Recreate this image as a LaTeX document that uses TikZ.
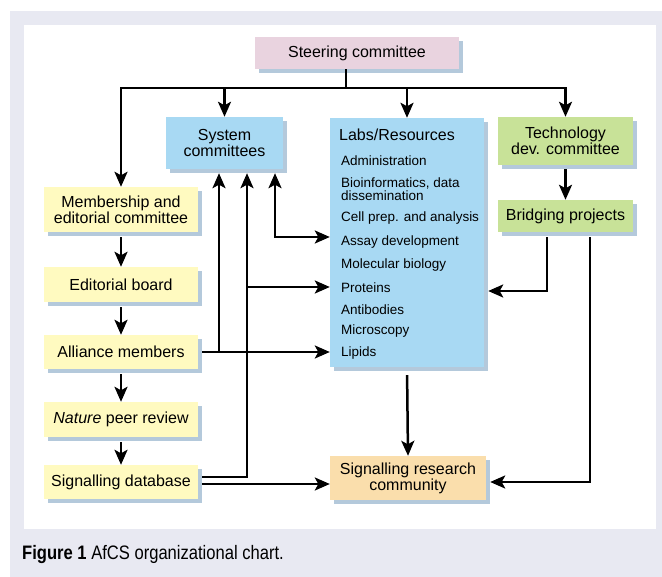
\documentclass[tikz,border=0pt]{standalone}
\usepackage{fontspec}
\setmainfont{Liberation Sans}
\newfontfamily\capfont[FakeStretch=0.85]{Liberation Sans}
\usepackage{tikz}
\usetikzlibrary{arrows.meta,shapes,shadows}
\usetikzlibrary{positioning}
\definecolor{steerpink}{RGB}{233,211,223}
\definecolor{sysblue}{RGB}{168,217,243}
\definecolor{memyellow}{RGB}{255,250,192}
\definecolor{techgreen}{RGB}{200,226,152}
\definecolor{comorange}{RGB}{250,222,172}
\definecolor{shadowblue}{RGB}{180,201,219}
\definecolor{panelgray}{RGB}{232,233,242}
\tikzstyle{box} = [rectangle, inner sep=0pt, align=center,
    font=\fontsize{16}{16}\selectfont,
    general shadow={shadow xshift=4pt, shadow yshift=-4pt, fill=shadowblue}]
\tikzstyle{item} = [anchor=base west, inner sep=0pt, align=left,
    font=\fontsize{13.5}{13}\selectfont]
\tikzstyle{arr} = [-{Stealth[length=15pt,width=13pt,inset=3.5pt]}, line width=2.5pt]
\tikzstyle{arrtwo} = [{Stealth[length=15pt,width=13pt,inset=3.5pt]}-{Stealth[length=15pt,width=13pt,inset=3.5pt]}, line width=2.5pt]

\begin{document}
\begin{tikzpicture}[x=1pt, y=-1pt]
  \useasboundingbox (0,0) rectangle (662,577);
  \fill[panelgray] (10,11) rectangle (662,577);
  \fill[white] (24,25) rectangle (656,529);

  \node [box, fill=steerpink, minimum width=204pt, minimum height=32pt] (steer) at (357,53) {Steering committee};
  \node [box, fill=sysblue, minimum width=117pt, minimum height=52pt] (sys) at (224.5,143) {System\\committees};
  \node [box, fill=sysblue, minimum width=154pt, minimum height=249pt] (labs) at (407,242.5) {};
  \node [box, fill=techgreen, minimum width=135pt, minimum height=48pt] (tech) at (565.5,141) {Technology\\dev. committee};
  \node [box, fill=techgreen, minimum width=135pt, minimum height=32pt, below of=tech, node distance=75pt] (bridge) {Bridging projects};
  \node [box, fill=memyellow, minimum width=154pt, minimum height=45pt] (memb) at (121,209.5) {Membership and\\editorial committee};
  \node [box, fill=memyellow, minimum width=154pt, minimum height=35pt, below of=memb, node distance=75pt] (edit) {Editorial board};
  \node [box, fill=memyellow, minimum width=154pt, minimum height=34pt, below of=edit, node distance=67.5pt] (alli) {Alliance members};
  \node [box, fill=memyellow, minimum width=154pt, minimum height=35pt, below of=alli, node distance=67.5pt] (natu) {\textit{Nature} peer review};
  \node [box, fill=memyellow, minimum width=154pt, minimum height=34pt, below of=natu, node distance=62.5pt] (sigdb) {Signalling database};
  \node [box, fill=comorange, minimum width=156pt, minimum height=44pt] (src) at (408,478) {Signalling research\\community};

  % list inside labs box
  \node [anchor=base west, inner sep=0pt, font=\fontsize{16}{16}\selectfont] (labt) at (339,141) {Labs/Resources};
  \node [item] (admin) at (341,165.5) {Administration};
  \node [item] (bioinf) at (341,201) {Bioinformatics, data\\dissemination};
  \node [item] (cell) at (341,222) {Cell prep. and analysis};
  \node [item] (assay) at (341,246) {Assay development};
  \node [item] (molbio) at (341,269) {Molecular biology};
  \node [item] (prot) at (341,293) {Proteins};
  \node [item] (antib) at (341,315) {Antibodies};
  \node [item] (micro) at (341,335) {Microscopy};
  \node [item] (lipid) at (341,357) {Lipids};

  \coordinate (bus) at (346,88);
  \coordinate (va) at (219,0);
  \coordinate (vb) at (247,0);
  \coordinate (vc) at (275,0);

  \draw [line width=2.5pt] (steer.south -| bus) -- (bus);
  \draw [arr] (bus) -| (memb.north);
  \draw [arr] (bus) -| (sys.north);
  \draw [arr] (bus) -| (labs.north);
  \draw [arr] (bus) -| (tech.north);
  \draw [arr, shorten <=5pt] (memb) -- (edit);
  \draw [arr, shorten <=5pt] (edit) -- (alli);
  \draw [arr, shorten <=5pt] (alli) -- (natu);
  \draw [arr, shorten <=5pt] (natu) -- (sigdb);
  \draw [arr, shorten <=4pt] (tech) -- (bridge);
  \draw [arr, shorten <=4pt] (alli.east) -- (alli.east -| labs.west);
  \draw [arr, shorten >=4pt] (alli.east -| va) -- (sys.south -| va);
  \draw [arr, shorten <=4pt, shorten >=4pt] ([yshift=5pt]sigdb.east) -| (sys.south -| vb);
  \draw [arr] ([yshift=6pt]vb |- prot.base) -- ([yshift=6pt]labs.west |- prot.base);
  \draw [arrtwo, shorten <=4pt] (sys.south -| vc) |- ([yshift=9pt]labs.west |- assay.base);
  \draw [arr, shorten <=4pt] ([yshift=-2pt]sigdb.east) -- ([yshift=-2pt]sigdb.east -| src.west);
  \draw [arr, shorten <=8pt] (labs.south) -- (src.north);
  \draw [arr, shorten <=5pt, shorten >=4pt] ([xshift=-18.5pt]bridge.south) |- ([yshift=2pt]labs.east |- prot.base);
  \draw [arr, shorten <=5pt, shorten >=4pt] ([xshift=24.5pt]bridge.south) |- ([yshift=-4pt]src.east);

  \node [anchor=base west, inner sep=0pt] (cap) at (22,559) {\capfont\fontsize{19.5}{21}\selectfont\textbf{Figure 1} AfCS organizational chart.};
\end{tikzpicture}
\end{document}
